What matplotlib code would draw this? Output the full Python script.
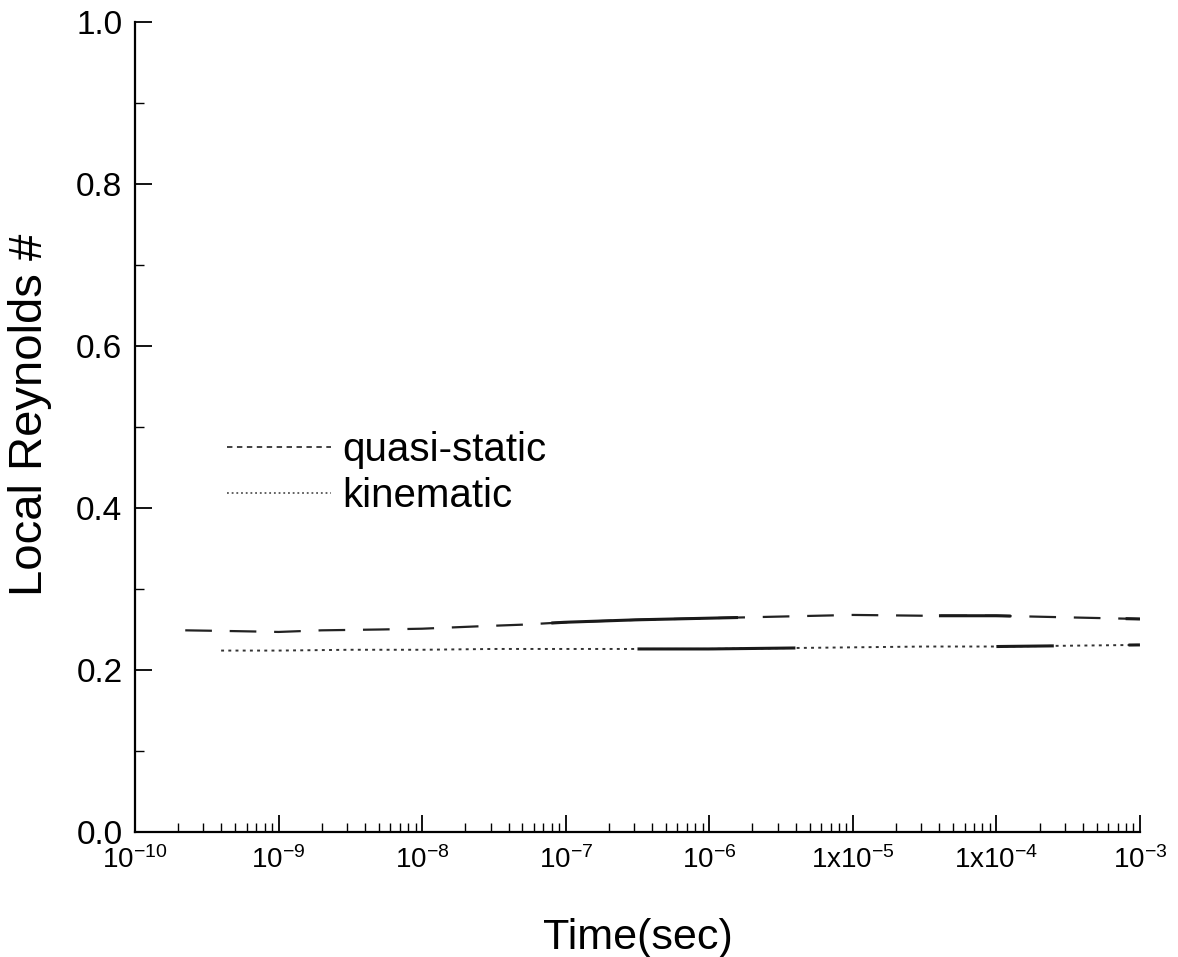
import numpy as np
import matplotlib.pyplot as plt
from matplotlib.lines import Line2D
from matplotlib.ticker import FixedLocator, NullFormatter

plt.rcParams['font.family'] = ['Liberation Sans', 'DejaVu Sans']
plt.rcParams['mathtext.fontset'] = 'custom'
plt.rcParams['mathtext.rm'] = 'Liberation Sans'
plt.rcParams['mathtext.it'] = 'Liberation Sans'

# ── Data ──────────────────────────────────────────────────────────────────────
quasi_logt = [-9.65, -9.3, -9.0, -8.7, -8.3, -8.0, -7.6, -7.3, -7.0,
              -6.5, -6.0, -5.5, -5.0, -4.5, -4.0, -3.5, -3.0]
quasi_re = [0.249, 0.248, 0.247, 0.249, 0.250, 0.251, 0.254, 0.256, 0.259,
            0.262, 0.264, 0.266, 0.268, 0.267, 0.267, 0.265, 0.263]

kin_logt = [-9.4, -9.0, -8.5, -8.0, -7.5, -7.0, -6.5, -6.0, -5.5,
            -5.0, -4.5, -4.0, -3.5, -3.0]
kin_re = [0.224, 0.224, 0.225, 0.225, 0.226, 0.226, 0.226, 0.226, 0.227,
          0.228, 0.229, 0.229, 0.230, 0.231]

# stretches of log10(t) where the traces are noisy (drawn heavier)
quasi_noisy = [(-7.1, -5.8), (-4.4, -3.9), (-3.1, -3.0)]
kin_noisy = [(-6.5, -5.4), (-4.0, -3.6), (-3.08, -3.0)]

x_ticks = [1e-10, 1e-9, 1e-8, 1e-7, 1e-6, 1e-5, 1e-4, 1e-3]
x_labels = [r'10$^{-10}$', r'10$^{-9}$', r'10$^{-8}$', r'10$^{-7}$', r'10$^{-6}$',
            r'1x10$^{-5}$', r'1x10$^{-4}$', r'10$^{-3}$']


def heavy(ax, logt, vals, spans):
    logt = np.asarray(logt)
    vals = np.asarray(vals)
    for a, b in spans:
        xs = np.linspace(a, b, 30)
        ax.plot(10 ** xs, np.interp(xs, logt, vals), color='#1a1a1a',
                linewidth=2.2, solid_capstyle='butt')


# ── Figure ────────────────────────────────────────────────────────────────────
fig = plt.figure(figsize=(11.78, 9.57), dpi=100)
ax = fig.add_axes([0.1146, 0.1306, 0.8531, 0.8464])

ax.plot(10 ** np.array(quasi_logt), quasi_re, color='#222222', linewidth=1.6,
        linestyle=(0, (12, 8)))
ax.plot(10 ** np.array(kin_logt), kin_re, color='#333333', linewidth=1.4,
        linestyle=(0, (1.5, 2.2)))
heavy(ax, quasi_logt, quasi_re, quasi_noisy)
heavy(ax, kin_logt, kin_re, kin_noisy)

ax.set_xscale('log')
ax.set_xlim(1e-10, 1e-3)
ax.set_ylim(0, 1.0)

ax.xaxis.set_major_locator(FixedLocator(x_ticks))
ax.set_xticklabels(x_labels, fontsize=20)
minor = [m * d for d in x_ticks[:-1] for m in range(2, 10)]
ax.xaxis.set_minor_locator(FixedLocator(minor))
ax.xaxis.set_minor_formatter(NullFormatter())

ax.set_yticks([0.0, 0.2, 0.4, 0.6, 0.8, 1.0])
ax.set_yticklabels(['0.0', '0.2', '0.4', '0.6', '0.8', '1.0'], fontsize=24)
ax.yaxis.set_minor_locator(FixedLocator([0.1, 0.3, 0.5, 0.7, 0.9]))

ax.tick_params(which='major', direction='in', length=12, width=1.3)
ax.tick_params(axis='y', which='major', pad=9)
ax.tick_params(axis='x', which='major', pad=10)
ax.tick_params(which='minor', direction='in', length=6.5, width=1.0)

for side in ('top', 'right'):
    ax.spines[side].set_visible(False)
for side in ('left', 'bottom'):
    ax.spines[side].set_linewidth(1.6)

ax.set_xlabel('Time(sec)', fontsize=31, labelpad=32)
ax.set_ylabel('Local Reynolds #', fontsize=34)
ax.yaxis.set_label_coords(-0.083, 0.515)

handles = [Line2D([], [], color='#333333', linewidth=1.3, linestyle=(0, (3, 2.5))),
           Line2D([], [], color='#555555', linewidth=1.3, linestyle=(0, (1, 1.6)))]
ax.legend(handles, ['quasi-static', 'kinematic'], loc='upper left',
          bbox_to_anchor=(0.055, 0.54), frameon=False, fontsize=29,
          handlelength=2.6, handletextpad=0.28, labelspacing=0.2)

fig.savefig('out.png', dpi=100)
